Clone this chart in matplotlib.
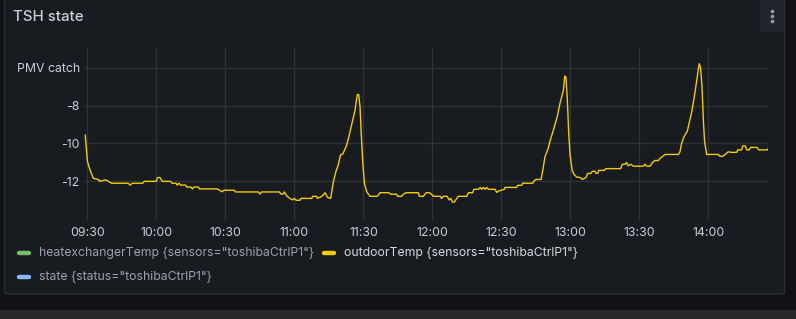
import matplotlib
matplotlib.use("Agg")
import matplotlib.pyplot as plt
import matplotlib.dates as mdates
from matplotlib.lines import Line2D
from matplotlib.patches import FancyBboxPatch, Rectangle
import pandas as pd

# minutes after 09:30 and outdoorTemp readings
minutes = [-1.0, 0.0, 1.1, 2.5, 4.7, 5.4, 8.0, 9.0, 10.5, 17.7, 18.5, 19.5, 24.0, 24.7,
           29.8, 30.5, 31.5, 32.5, 36.2, 36.7, 38.5, 39.0, 39.8, 40.5, 42.7, 43.1, 45.0,
           45.6, 46.3, 48.2, 48.6, 56.4, 58.6, 59.3, 63.7, 64.4, 74.3, 75.0, 75.7, 83.4,
           84.1, 85.1, 85.6, 86.6, 88.0, 89.2, 89.9, 90.7, 92.4, 92.8, 97.5, 97.9, 99.6,
           100.0, 101.8, 103.3, 104.3, 105.7, 106.9, 108.0, 109.0, 110.0, 111.0, 112.7,
           113.8, 115.3, 116.3, 117.3, 117.9, 118.5, 119.0, 119.7, 120.4, 121.4, 122.8,
           126.0, 127.2, 131.0, 131.8, 134.4, 134.8, 136.6, 137.3, 138.5, 143.8, 144.3,
           146.0, 147.2, 148.6, 149.6, 150.3, 153.3, 154.0, 154.7, 156.4, 157.2, 158.0,
           158.6, 159.5, 161.2, 164.9, 165.6, 167.5, 168.0, 170.0, 170.7, 171.4, 172.1,
           172.8, 173.6, 174.3, 177.2, 177.9, 179.0, 181.2, 181.5, 186.6, 187.0, 188.8,
           189.2, 193.6, 194.1, 195.0, 197.2, 197.9, 198.9, 200.3, 201.1, 202.8, 204.3,
           205.4, 206.9, 207.5, 208.0, 208.6, 209.2, 209.8, 210.7, 211.5, 212.7, 214.4,
           215.1, 216.7, 217.5, 218.9, 219.5, 220.7, 221.1, 221.8, 222.3, 224.7, 225.3,
           231.8, 232.5, 233.8, 234.4, 235.1, 236.2, 237.3, 241.7, 242.4, 243.1, 244.6,
           245.7, 246.7, 248.2, 248.9, 250.1, 251.1, 256.9, 257.6, 258.3, 259.3, 260.8,
           261.7, 262.7, 263.7, 264.9, 265.6, 266.0, 266.6, 267.2, 267.8, 268.3, 269.2,
           274.3, 275.0, 276.2, 277.2, 278.6, 279.7, 282.3, 282.7, 284.4, 284.9, 286.0,
           286.6, 287.7, 288.3, 291.2, 291.8, 295.7, 296.2]
outdoor_temp = [-9.56, -10.97, -11.4, -11.84, -11.9, -12.0, -11.92, -12.0, -12.1, -12.1, -12.2,
                -12.1, -12.1, -12.0, -12.0, -11.8, -11.8, -12.0, -12.0, -12.1, -12.1, -12.2,
                -12.1, -12.2, -12.2, -12.3, -12.3, -12.4, -12.3, -12.3, -12.4, -12.4, -12.55,
                -12.47, -12.47, -12.56, -12.56, -12.67, -12.56, -12.56, -12.67, -12.67, -12.56,
                -12.77, -12.9, -12.98, -12.9, -13.0, -13.0, -12.9, -12.9, -12.79, -12.79, -12.9,
                -12.8, -12.6, -12.84, -12.9, -12.02, -11.49, -11.14, -10.6, -10.56, -10.09,
                -9.56, -8.77, -8.25, -7.42, -7.42, -8.07, -9.47, -11.05, -12.1, -12.55, -12.79,
                -12.79, -12.6, -12.6, -12.68, -12.68, -12.79, -12.79, -12.68, -12.6, -12.6,
                -12.79, -12.79, -12.6, -12.6, -12.68, -12.79, -12.79, -12.9, -12.79, -12.79,
                -12.98, -12.9, -13.09, -13.09, -12.79, -12.79, -12.6, -12.6, -12.42, -12.42,
                -12.32, -12.42, -12.32, -12.42, -12.32, -12.42, -12.42, -12.58, -12.5, -12.42,
                -12.32, -12.32, -12.21, -12.21, -12.1, -12.1, -11.98, -11.9, -11.9, -11.45,
                -10.7, -10.26, -9.87, -9.2, -8.55, -7.9, -7.2, -6.44, -6.5, -7.63, -9.4, -10.6,
                -11.4, -11.63, -11.77, -11.81, -11.9, -11.8, -11.58, -11.58, -11.47, -11.47,
                -11.58, -11.58, -11.42, -11.42, -11.33, -11.33, -11.1, -11.1, -11.0, -11.18,
                -11.1, -11.2, -11.2, -11.1, -11.2, -11.2, -11.0, -10.9, -10.9, -10.79, -10.68,
                -10.58, -10.58, -10.44, -10.0, -9.65, -9.35, -8.86, -8.34, -7.63, -6.67, -6.05,
                -5.79, -6.05, -7.1, -8.86, -9.9, -10.58, -10.58, -10.68, -10.68, -10.58, -10.44,
                -10.47, -10.47, -10.34, -10.34, -10.13, -10.13, -10.34, -10.34, -10.21, -10.21,
                -10.34, -10.34, -10.21]

y_ticks = [-12, -10, -8, -6]
y_labels = ["-12", "-10", "-8", "PMV catch"]

legend_names = ['heatexchangerTemp {sensors="toshibaCtrlP1"}',
                'outdoorTemp {sensors="toshibaCtrlP1"}',
                'state {status="toshibaCtrlP1"}']
legend_colors = ["#73bf69", "#f2cc0c", "#8ab8ff"]

W, H = 796, 319
plt.rcParams["font.family"] = ["Inter", "DejaVu Sans"]

fig = plt.figure(figsize=(W / 100, H / 100), dpi=100, facecolor="#111217")


def fx(x):
    return x / W


def fy(y):
    return 1 - y / H


# panel background + chrome
fig.patches.append(Rectangle((0, 0), 1, fy(310), transform=fig.transFigure,
                             facecolor="#2a2828", edgecolor="none", zorder=-3))
fig.patches.append(FancyBboxPatch((fx(4.5), fy(294)), fx(780), (294 + 10) / H,
                                  boxstyle="round,pad=0,rounding_size=0.004",
                                  transform=fig.transFigure, facecolor="#181b1f",
                                  edgecolor="#2b2e33", lw=1, zorder=-2))
fig.patches.append(FancyBboxPatch((fx(760), fy(32)), fx(24), 40 / H,
                                  boxstyle="round,pad=0,rounding_size=0.004",
                                  transform=fig.transFigure, facecolor="#22252b",
                                  edgecolor="none", zorder=-1))
fig.add_artist(Line2D([fx(772)] * 3, [fy(11), fy(16), fy(21)], ls="none", marker="o",
                      ms=2.6, mew=0, color="#9a9ba3", transform=fig.transFigure, zorder=1))

fig.text(fx(13), fy(17), "TSH state", color="#ccccdc", fontsize=10.8,
         fontweight="medium", va="center", ha="left")

ax = fig.add_axes([fx(84), fy(220), fx(768.3 - 84), (220 - 48.3) / H])
ax.set_facecolor("none")
ax.set_zorder(2)

times = pd.Timestamp("2024-01-01 09:30") + pd.to_timedelta(minutes, unit="min")
ax.plot(times, outdoor_temp, color="#f2cc0c", lw=1.0, solid_joinstyle="round")

start = pd.Timestamp("2024-01-01 09:30")
ax.set_xlim(start + pd.Timedelta(minutes=-1.52), start + pd.Timedelta(minutes=296.0))
ax.set_ylim(-14.04, -4.98)

ax.xaxis.set_major_locator(mdates.MinuteLocator(byminute=[0, 30]))
ax.xaxis.set_major_formatter(mdates.DateFormatter("%H:%M"))
ax.set_yticks(y_ticks)
ax.set_yticklabels(y_labels)

ax.grid(True, color="#2f3237", lw=1)
ax.set_axisbelow(True)
for s in ax.spines.values():
    s.set_visible(False)
ax.tick_params(axis="both", length=0, colors="#ccccdc", labelsize=8.9)
ax.tick_params(axis="x", pad=5)
ax.tick_params(axis="y", pad=3)

# legend
legend_pos = [(17, 252.7), (322, 252.7), (17, 276.7)]
legend_text_colors = ["#9fa0a8", "#d8d9e0", "#9fa0a8"]
for name, col, tcol, (lx, ly) in zip(legend_names, legend_colors, legend_text_colors, legend_pos):
    fig.add_artist(Line2D([fx(lx + 2), fx(lx + 12)], [fy(ly), fy(ly)], color=col, lw=3.2,
                          solid_capstyle="round", transform=fig.transFigure))
    fig.text(fx(lx + 22), fy(ly), name, color=tcol, fontsize=8.8, va="center", ha="left")

fig.savefig("out.png", dpi=100, facecolor=fig.get_facecolor())
